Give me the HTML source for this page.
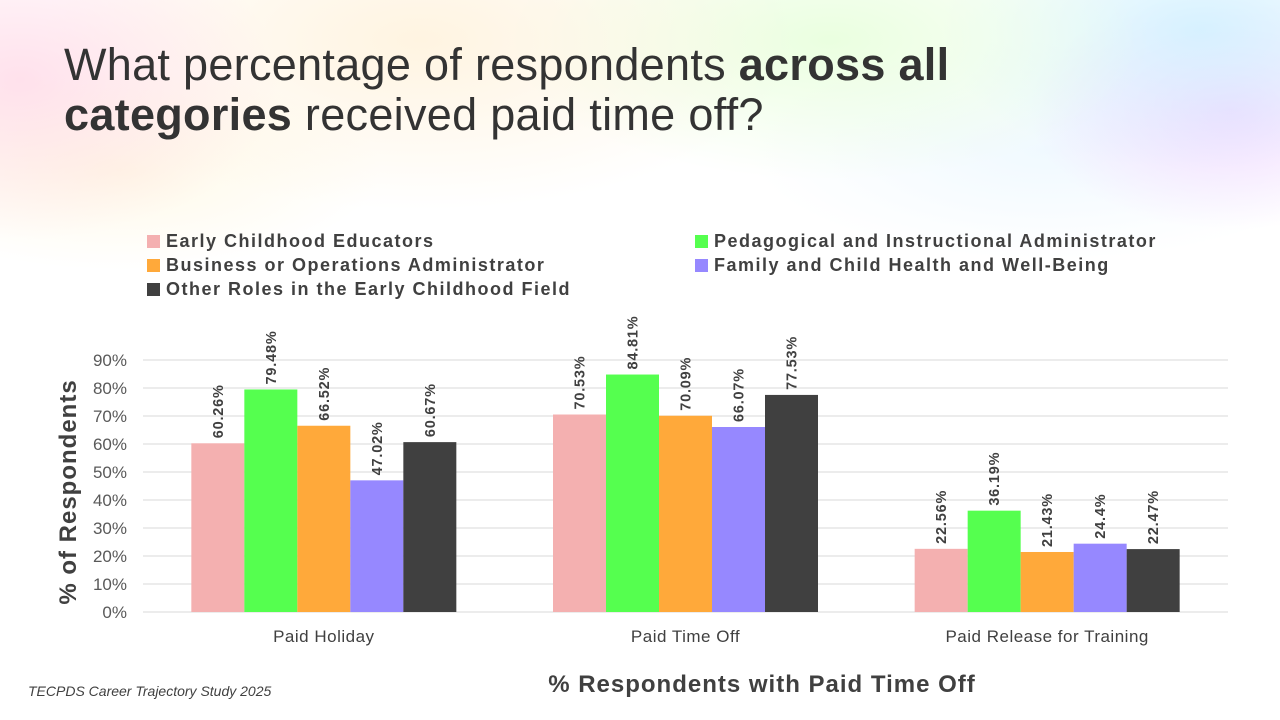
<!DOCTYPE html>
<html><head><meta charset="utf-8"><style>
html,body{margin:0;padding:0}
body{width:1280px;height:720px;position:relative;overflow:hidden;background:#fff;font-family:"Liberation Sans",sans-serif}
.bg{position:absolute;inset:0;background:
radial-gradient(ellipse 260px 160px at 20px 80px,rgba(255,200,220,.55),transparent),
radial-gradient(ellipse 380px 170px at 420px 40px,rgba(255,235,200,.55),transparent),
radial-gradient(ellipse 320px 140px at 830px 40px,rgba(225,255,210,.7),transparent),
radial-gradient(ellipse 260px 140px at 1200px 30px,rgba(205,240,255,.8),transparent),
radial-gradient(ellipse 200px 120px at 1230px 110px,rgba(240,205,255,.7),transparent),
radial-gradient(ellipse 300px 110px at 1050px 150px,rgba(230,245,255,.6),transparent),
radial-gradient(ellipse 260px 100px at 120px 170px,rgba(255,245,215,.6),transparent);}
h1{position:absolute;left:64px;top:40px;margin:0;font-weight:300;font-size:45px;line-height:50px;color:#333;letter-spacing:0.3px;white-space:nowrap}
h1 b{font-weight:700}
.leg{position:absolute;font-size:18px;font-weight:bold;color:#404040;display:flex;align-items:center;letter-spacing:1.5px;white-space:nowrap}
.leg i{display:inline-block;width:13px;height:13px;margin-right:6px}
.src{position:absolute;left:28px;top:683px;font-size:14px;font-style:italic;color:#404040}
</style></head><body>
<div class="bg"></div>
<h1>What percentage of respondents <b>across all</b><br><b>categories</b> received paid time off?</h1>
<div class="leg" style="left:147px;top:231px"><i style="background:#F4B0B0"></i>Early Childhood Educators</div>
<div class="leg" style="left:695px;top:231px"><i style="background:#55FF4F"></i>Pedagogical and Instructional Administrator</div>
<div class="leg" style="left:147px;top:255px"><i style="background:#FFA93A"></i>Business or Operations Administrator</div>
<div class="leg" style="left:695px;top:255px"><i style="background:#9688FF"></i>Family and Child Health and Well-Being</div>
<div class="leg" style="left:147px;top:279px"><i style="background:#404040"></i>Other Roles in the Early Childhood Field</div>
<svg id="chart" width="1280" height="720" style="position:absolute;left:0;top:0"></svg>
<div class="src">TECPDS Career Trajectory Study 2025</div>
<script>
const categories=["Paid Holiday","Paid Time Off","Paid Release for Training"];
const educators=[60.26,70.53,22.56];
const pedagogical=[79.48,84.81,36.19];
const business=[66.52,70.09,21.43];
const family=[47.02,66.07,24.4];
const other=[60.67,77.53,22.47];
const labelsEducators=["60.26%","70.53%","22.56%"];
const labelsPedagogical=["79.48%","84.81%","36.19%"];
const labelsBusiness=["66.52%","70.09%","21.43%"];
const labelsFamily=["47.02%","66.07%","24.4%"];
const labelsOther=["60.67%","77.53%","22.47%"];
const yTicks=[0,10,20,30,40,50,60,70,80,90];
const series=[
 {name:"educators",v:educators,l:labelsEducators,c:"#F4B0B0"},
 {name:"pedagogical",v:pedagogical,l:labelsPedagogical,c:"#55FF4F"},
 {name:"business",v:business,l:labelsBusiness,c:"#FFA93A"},
 {name:"family",v:family,l:labelsFamily,c:"#9688FF"},
 {name:"other",v:other,l:labelsOther,c:"#404040"}];
const NS="http://www.w3.org/2000/svg",svg=document.getElementById("chart");
const x0=143,x1=1228,y0=612,pxPer=2.8;
const y=v=>y0-v*pxPer;
const band=(x1-x0)/categories.length, bw=53;
function mk(t,a,txt){const e=document.createElementNS(NS,t);for(const k in a)e.setAttribute(k,a[k]);if(txt!=null)e.textContent=txt;svg.appendChild(e);return e;}
yTicks.forEach(t=>{
 const g=mk("line",{x1:x0,x2:x1,y1:y(t),y2:y(t),stroke:"#d9d9d9","stroke-width":1});
 
 
 const tl=mk("text",{x:127,y:y(t)+6,"text-anchor":"end","font-size":17,fill:"#595959","font-family":"Liberation Sans"},t+"%");
 
 
});
categories.forEach((c,i)=>{
 const cx=x0+band*(i+0.5);
 const cl=mk("text",{x:cx,y:642,"text-anchor":"middle","font-size":17,fill:"#404040","font-family":"Liberation Sans","letter-spacing":"0.5"},c);
 
 
 series.forEach((s,j)=>{
  const bx=cx-bw*2.5+j*bw, top=y(s.v[i]);
  const r=mk("rect",{x:bx,y:top,width:bw,height:y0-top,fill:s.c});
  
  
  const lx=bx+bw/2+5, ly=top-5;
  const t=mk("text",{x:lx,y:ly,transform:`rotate(-90 ${lx} ${ly})`,"font-size":14.5,"font-weight":"bold",fill:"#404040","font-family":"Liberation Sans","letter-spacing":"0.8"},s.l[i]);
  
  
 });
});
const yt=mk("text",{x:76,y:492,transform:"rotate(-90 76 492)","text-anchor":"middle","font-size":24,"font-weight":"bold",fill:"#404040","font-family":"Liberation Sans","letter-spacing":"1"},"% of Respondents");


const xt=mk("text",{x:762,y:692,"text-anchor":"middle","font-size":24,"font-weight":"bold",fill:"#404040","font-family":"Liberation Sans","letter-spacing":"1"},"% Respondents with Paid Time Off");


</script>
</body></html>
